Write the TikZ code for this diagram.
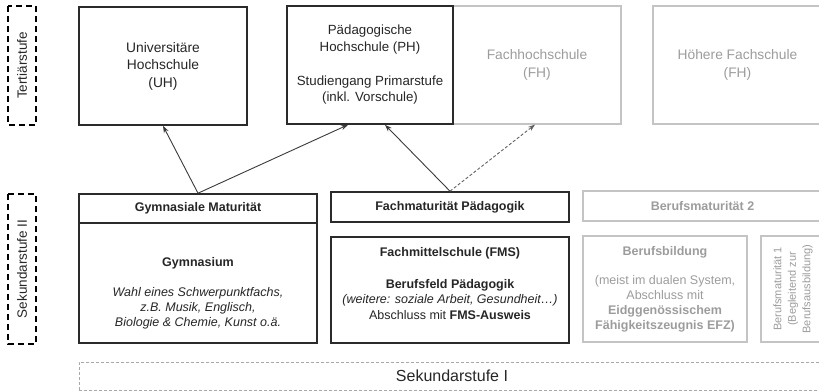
\documentclass[tikz,border=0pt]{standalone}
\usepackage{fontspec}
\setmainfont{Liberation Sans}
\usetikzlibrary{arrows.meta,calc}
\definecolor{ink}{HTML}{262626}
\definecolor{boxline}{HTML}{2B2B2B}
\definecolor{lgline}{HTML}{C4C4C4}
\definecolor{lgtext}{HTML}{9C9C9C}
\definecolor{arrowc}{HTML}{3A3A3A}
\definecolor{sekline}{HTML}{A8A8A8}
\begin{document}
\begin{tikzpicture}[x=1pt,y=-1pt,
  dbox/.style={draw=boxline, line width=1.6pt, fill=white, inner sep=0pt, align=center, text=ink},
  gbox/.style={draw=lgline, line width=1.2pt, inner sep=0pt, align=center, text=lgtext},
  stage/.style={draw=black, line width=1.5pt, dash pattern=on 6pt off 4pt, rotate=90, inner sep=0pt, text=ink, font=\fontsize{13.5}{16}\selectfont},
  txtop/.style={font=\fontsize{13.8}{17.5}\selectfont},
  txph/.style={font=\fontsize{13.3}{16.75}\selectfont},
  tx/.style={font=\fontsize{12.5}{15.5}\selectfont},
  txb/.style={font=\fontsize{12.5}{15}\selectfont},
  txt/.style={inner sep=0pt, align=center, text=ink},
  arr/.style={draw=arrowc, line width=0.9pt, -{Stealth[length=7pt,width=5pt]}},
]
\path[use as bounding box] (0,0) rectangle (819,391);
\clip (0,0) rectangle (819,391);

% stage labels
\node[stage, minimum width=119, minimum height=28] (tert) at (22,65.5) {Tertiärstufe};
\node[stage, minimum width=150, minimum height=28] (sek2) at (22,269) {Sekundarstufe II};

% tertiary level
\node[gbox, txtop, minimum width=168, minimum height=118] (fh) at (537,65) {Fachhochschule\\(FH)};
\node[gbox, txtop, minimum width=169, minimum height=118] (hfs) at (737.5,65) {Höhere Fachschule\\(FH)};
\node[dbox, txtop, minimum width=168, minimum height=118] (uh) at (163,66) {Universitäre\\Hochschule\\(UH)};
\node[dbox, txph, minimum width=166, minimum height=118] (ph) at (370,65) {Pädagogische\\Hochschule (PH)\\[16.75pt]Studiengang Primarstufe\\(inkl. Vorschule)};

% secondary level II
\node[dbox, minimum width=238, minimum height=120] (gym) at (198,283) {};
\node[dbox, txb, minimum width=238, minimum height=29] (gm) at (198,208.5) {\textbf{Gymnasiale Maturität}};
\node[txt, txb, anchor=north] (gymt) at (198,257) {\textbf{Gymnasium}\\[15pt]\textit{Wahl eines Schwerpunktfachs,}\\\textit{z.B. Musik, Englisch,}\\\textit{Biologie \& Chemie, Kunst o.ä.}};

\node[dbox, txb, minimum width=238, minimum height=30] (fmp) at (450,207) {\textbf{Fachmaturität Pädagogik}};
\node[dbox, minimum width=238, minimum height=106] (fms) at (450,290) {};
\node[txt, tx, anchor=north] (fmst) at (450,247) {\textbf{Fachmittelschule (FMS)}\\[16.5pt]\textbf{Berufsfeld Pädagogik}\\\textit{(weitere: soziale Arbeit, Gesundheit…)}\\Abschluss mit \textbf{FMS-Ausweis}};

\node[gbox, txb, minimum width=239, minimum height=30] (bm2) at (702.5,206) {\textbf{Berufsmaturität 2}};
\node[gbox, txb, minimum width=164, minimum height=106] (bb) at (665,289) {\textbf{Berufsbildung}\\[14pt](meist im dualen System,\\Abschluss mit\\\textbf{Eidggenössischem}\\\textbf{Fähigkeitszeugnis EFZ)}};
\node[gbox, rotate=90, minimum width=106, minimum height=64, font=\fontsize{11}{14.5}\selectfont] (bm1) at (793,289) {Berufsmaturität 1\\(Begleitend zur\\Berufsausbildung)};

% secondary level I
\node[draw=sekline, line width=0.9pt, dash pattern=on 3pt off 2pt, inner sep=0pt, text=ink, minimum width=746, minimum height=28, font=\fontsize{16}{19}\selectfont] (sek1) at (452,376) {Sekundarstufe I};

% connectors
\draw[arr] (gm.north) -- (uh.south);
\draw[arr] (gm.north) -- ($(ph.south)+(-22,0)$);
\draw[arr] (fmp.north) -- ($(ph.south)+(15,0)$);
\draw[arr, dash pattern=on 3pt off 2pt, draw=arrowc!80] (fmp.north) -- ($(fh.south)+(-2,0)$);
\end{tikzpicture}
\end{document}
